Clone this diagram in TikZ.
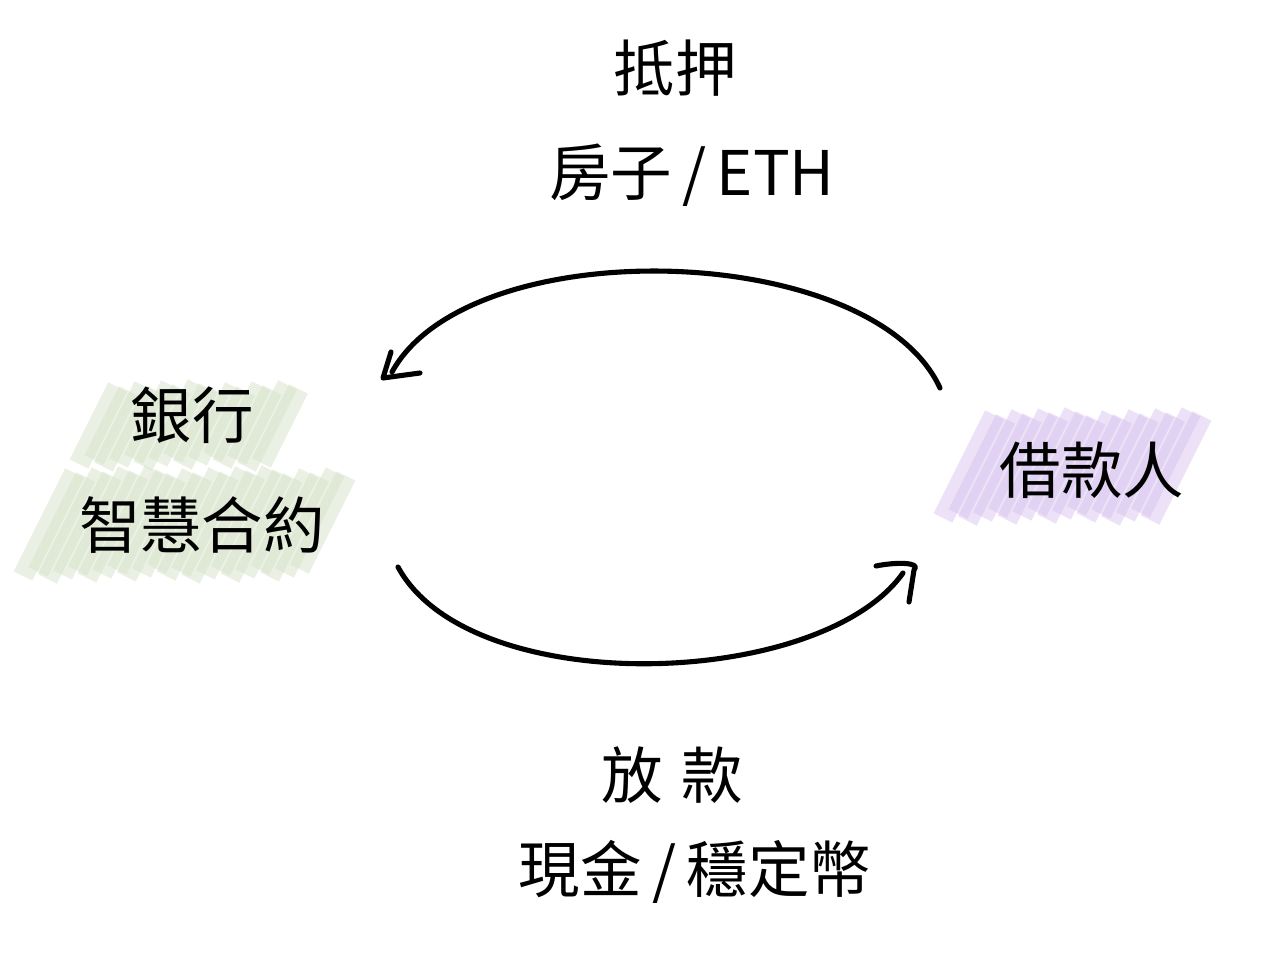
\documentclass[tikz,border=0pt]{standalone}
\usepackage{fontspec}
\newfontfamily\cjk{Noto Sans CJK TC}
\definecolor{hlgreen}{HTML}{D2E1C4}
\definecolor{hlpurple}{HTML}{D5BEEE}
\tikzset{
  lbl/.style={font=\cjk\fontsize{35}{40}\selectfont, inner sep=0pt, text=black},
  stroke/.style={line width=2.9pt, line cap=round, line join=round, black},
  marker/.style={line width=0.42cm, line cap=butt, draw opacity=0.45}
}
% marker band: colour, first x, second x, last x, top y, bottom y
\newcommand\hlband[6]{%
  \foreach \x [count=\i] in {#2,#3,...,#4}{%
    \pgfmathsetmacro\ja{mod(\i*7,11)-5}%
    \pgfmathsetmacro\jb{mod(\i*5,9)-4}%
    \draw[marker, draw=#1] (\x-0.5*\ja, #6+\ja) -- (\x+0.5*#6-0.5*#5+0.5*\jb, #5-\jb);
  }}
\begin{document}
\begin{tikzpicture}[x=0.02cm,y=-0.02cm]
\useasboundingbox (0,0) rectangle (1276,966);
\fill[white] (0,0) rectangle (1276,966);
% highlight bands
\hlband{hlgreen}{80}{93}{262}{388}{462}
\hlband{hlgreen}{24}{37}{297}{474}{574}
\hlband{hlpurple}{944}{957}{1164}{416}{516}
% labels
\node[lbl] (collateral) at (675,68) {抵押};
\node[lbl] (collateralitem) at (692,175) {房子\,/\,ETH};
\node[lbl] (bank) at (192,415) {銀行};
\node[lbl] (contract) at (202,525) {智慧合約};
\node[lbl] (borrower) at (1092,470) {借款人};
\node[lbl] (loan) at (672,775) {放\hspace{0.3em}款};
\node[lbl] (loanitem) at (695,872) {現金\,/\,穩定幣};
% arrow end points
\coordinate (topstart) at (940,388);
\coordinate (topend) at (392,372);
\coordinate (toptip) at (383,378);
\coordinate (toparmA) at (391,352);
\coordinate (toparmB) at (420,373);
\coordinate (botstart) at (398,567);
\coordinate (botend) at (903,573);
\coordinate (botarmA) at (876,566);
\coordinate (botcorner) at (914,570);
\coordinate (botarmB) at (909,602);
% top arc: borrower -> bank
\draw[stroke] (topstart) .. controls (872,240) and (470,230) .. (topend);
\draw[stroke] (toparmA) -- (toptip) -- (toparmB);
% bottom arc: bank -> borrower
\draw[stroke] (botstart) .. controls (470,700) and (820,690) .. (botend);
\draw[stroke] (botarmA) .. controls (895,562) and (922,562) .. (botcorner) -- (botarmB);
\end{tikzpicture}
\end{document}
